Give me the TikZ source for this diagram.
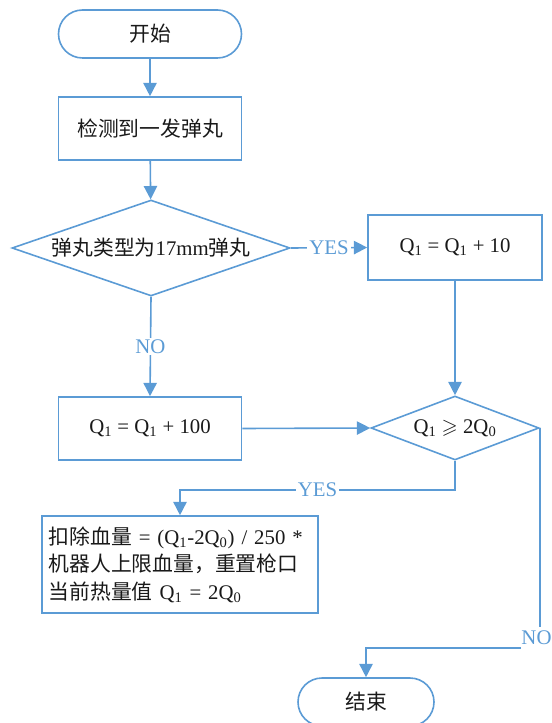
\documentclass[tikz,border=0pt]{standalone}
\usepackage{fontspec}
\usepackage{amssymb}
\setmainfont{Liberation Serif}
\newfontfamily\cjk{Noto Sans CJK SC}
\newcommand{\zh}[1]{{\cjk #1}}
\newcommand{\sub}[1]{\textsubscript{#1}}
\usetikzlibrary{shapes.geometric,arrows.meta}
\definecolor{lb}{RGB}{91,155,213}
\begin{document}
\begin{tikzpicture}[x=0.75pt,y=-0.75pt,
  every node/.style={font=\fontsize{15.6}{20.6}\selectfont, text=black!90},
  shp/.style={draw=lb, line width=1.2pt},
  box/.style={shp, rectangle, minimum width=137.25pt, minimum height=47.25pt, inner sep=2pt},
  term/.style={shp, rectangle, rounded corners=18pt, minimum height=36pt},
  dia/.style={shp, diamond, inner sep=0pt},
  conn/.style={draw=lb, line width=1.2pt, -{Triangle[length=10pt,width=10pt]}},
  lab/.style={fill=white, text=lb, inner sep=1.5pt}]
\useasboundingbox (0,0) rectangle (552,723);
\node[term, minimum width=137.25pt] (start) at (150,34) {\zh{开始}};
\node[box] (detect) at (150,128.5) {\zh{检测到一发弹丸}};
\node[dia, minimum width=208.5pt, minimum height=72pt] (d1) at (151,248) {\makebox[0pt]{\zh{弹丸类型为}17mm\zh{弹丸}}};
\node[box, minimum width=130.5pt, minimum height=48.75pt] (q10) at (455,247.5) {Q\sub{1} = Q\sub{1} + 10};
\node[box] (q100) at (150,428.5) {Q\sub{1} = Q\sub{1} + 100};
\node[dia, minimum width=126pt, minimum height=48pt] (d2) at (455,428) {\makebox[0pt]{Q\sub{1} $\geqslant$ 2Q\sub{0}}};
\node[box, minimum width=207pt, minimum height=72.75pt, inner xsep=5pt, inner ysep=6pt, text width=197pt, align=left] (pen) at (180,564.5)
  {\zh{扣除血量} = (Q\sub{1}-2Q\sub{0}) / 250 *\\ \zh{机器人上限血量，重置枪口}\\ \zh{当前热量值} Q\sub{1} = 2Q\sub{0}};
\node[term, minimum width=102pt] (end) at (366,702) {\zh{结束}};
\draw[conn] (start) -- (detect);
\draw[conn] (detect) -- (d1);
\draw[conn] (d1.east) -- node[lab]{YES} (q10.west);
\draw[conn] (d1.south) -- node[lab]{NO} (q100.north);
\draw[conn] (q10.south) -- (d2.north);
\draw[conn] (q100.east) -- (d2.west);
\draw[conn] (d2.south) -- ++(0,29) -| node[lab, pos=0.25]{YES} (pen.north);
\draw[conn] (d2.east) -- ++(0,220) -| (end.north);
\node[lab, inner xsep=0.5pt, minimum height=16.5pt] (nolab) at (536.5,638) {NO};
\end{tikzpicture}
\end{document}
